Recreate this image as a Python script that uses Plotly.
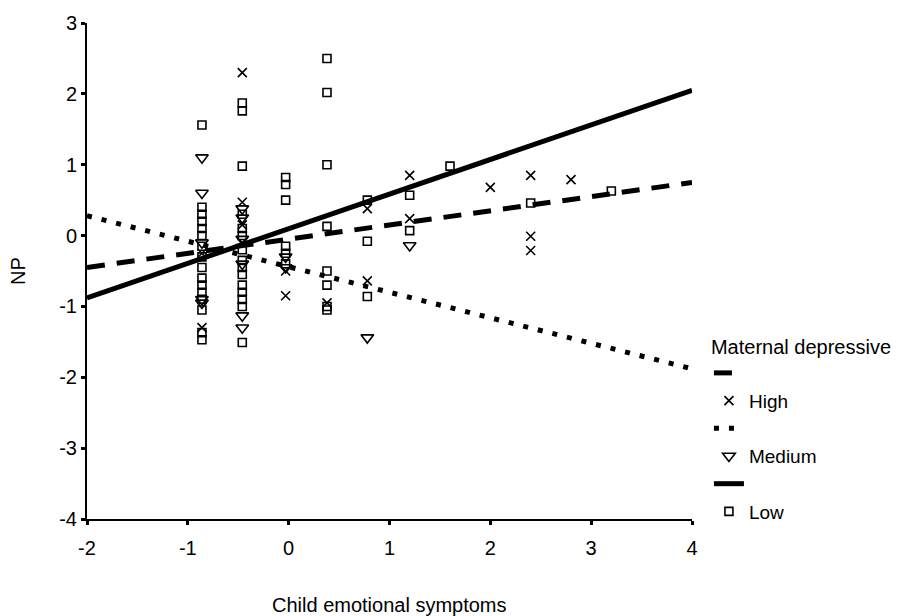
import plotly.graph_objects as go

# ---- data ----
high_x = [-0.86, -0.86, -0.46, -0.46, -0.46, -0.46, -0.03, -0.03, 0.38, 0.78, 0.78,
          1.2, 1.2, 2.0, 2.4, 2.4, 2.4, 2.8]
high_y = [-0.25, -1.3, 2.3, 0.47, 0.15, -0.1, -0.5, -0.85, -0.95, 0.38, -0.64,
          0.85, 0.24, 0.68, 0.85, -0.01, -0.21, 0.79]

medium_x = [-0.86, -0.86, -0.86, -0.86, -0.86, -0.46, -0.46, -0.46, -0.46, -0.46, -0.46,
            -0.03, -0.03, 0.78, 1.2]
medium_y = [1.1, 0.6, -0.1, -0.9, -0.95, 0.38, 0.25, -0.05, -0.4, -1.13, -1.3,
            -0.3, -0.45, -1.44, -0.14]

low_x = ([-0.86] * 16 + [-0.46] * 15 + [-0.03] * 6 + [0.38] * 8 + [0.78] * 3
         + [1.2] * 2 + [1.6, 2.4, 3.2])
low_y = [1.56, 0.4, 0.3, 0.2, 0.1, 0.0, -0.15, -0.3, -0.45, -0.6, -0.7, -0.8, -0.9, -1.05, -1.37, -1.47,
         1.87, 1.76, 0.98, 0.3, 0.1, 0.0, -0.2, -0.35, -0.45, -0.55, -0.7, -0.8, -0.9, -1.0, -1.51,
         0.82, 0.72, 0.5, -0.15, -0.25, -0.4,
         2.5, 2.02, 1.0, 0.13, -0.5, -0.7, -1.0, -1.05,
         0.5, -0.08, -0.86,
         0.57, 0.07,
         0.98, 0.46, 0.63]

line_x = [-2, 4]
high_line = [-0.45, 0.75]
medium_line = [0.28, -1.88]
low_line = [-0.88, 2.05]

x_ticks = [-2, -1, 0, 1, 2, 3, 4]
y_ticks = [-4, -3, -2, -1, 0, 1, 2, 3]

FONT = "Liberation Sans, Arial, sans-serif"

fig = go.Figure()

groups = [
    ("High", high_x, high_y, high_line, "18px,12px", "x-thin-open", 9),
    ("Medium", medium_x, medium_y, medium_line, "5px,10px", "triangle-down-open", 11),
    ("Low", low_x, low_y, low_line, "solid", "square-open", 8),
]

for name, xs, ys, ln, dash, sym, size in groups:
    fig.add_trace(go.Scatter(
        x=line_x, y=ln, mode="lines", name=" ",
        line=dict(color="black", width=5, dash=dash),
    ))
    fig.add_trace(go.Scatter(
        x=xs, y=ys, mode="markers", name=name,
        marker=dict(symbol=sym, size=size, color="black",
                    line=dict(color="black", width=1.6)),
    ))

fig.update_layout(
    width=916, height=616,
    margin=dict(l=87, r=224, t=17, b=97),
    paper_bgcolor="white", plot_bgcolor="white",
    font=dict(family=FONT, size=20, color="black"),
    showlegend=True,
    legend=dict(
        x=1.028, xanchor="left", xref="paper",
        y=0.385, yanchor="top",
        title=dict(text="Maternal depressive", font=dict(size=20)),
        font=dict(size=19),
        traceorder="normal",
        tracegroupgap=0,
        itemwidth=30,
        bgcolor="rgba(0,0,0,0)",
    ),
    xaxis=dict(
        range=[-2, 4], tickvals=x_ticks, ticktext=[str(v) for v in x_ticks],
        showgrid=False, zeroline=False, showline=True,
        linecolor="black", linewidth=2,
        ticks="outside", ticklen=4, tickwidth=3, tickcolor="black",
        tickfont=dict(size=20), ticklabelstandoff=6, fixedrange=True,
    ),
    yaxis=dict(
        range=[-4, 3], tickvals=y_ticks, ticktext=[str(v) for v in y_ticks],
        showgrid=False, zeroline=False, showline=True,
        linecolor="black", linewidth=2,
        ticks="outside", ticklen=4, tickwidth=3, tickcolor="black",
        tickfont=dict(size=20), fixedrange=True,
    ),
    annotations=[
        dict(text="Child emotional symptoms", xref="paper", yref="paper",
             x=0.5, y=0, xanchor="center", yanchor="middle", yshift=-86,
             showarrow=False, font=dict(size=20)),
        dict(text="NP", xref="paper", yref="paper", x=0, y=0.5,
             xanchor="center", yanchor="middle", xshift=-69, textangle=-90,
             showarrow=False, font=dict(size=20)),
    ],
)

fig.write_html("out.html")
